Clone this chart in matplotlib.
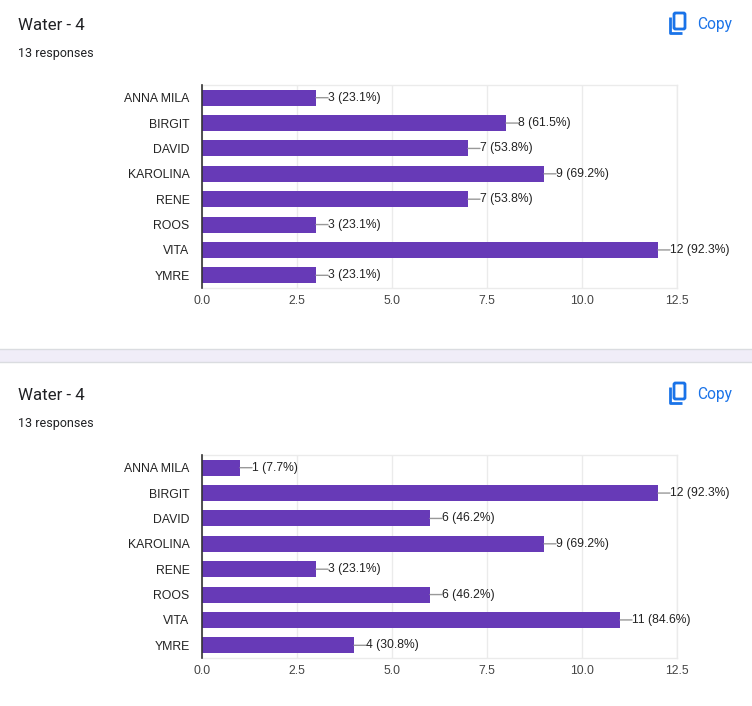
import matplotlib
matplotlib.use("Agg")
import matplotlib.pyplot as plt
from matplotlib.patches import FancyBboxPatch, Rectangle
from matplotlib.lines import Line2D

# ---- data ----
categories = ["ANNA MILA", "BIRGIT", "DAVID", "KAROLINA", "RENE", "ROOS", "VITA", "YMRE"]
values_top = [3, 8, 7, 9, 7, 3, 12, 3]
values_bottom = [1, 12, 6, 9, 3, 6, 11, 4]
responses = 13
title_text = "Water - 4"
subtitle_text = "13 responses"
xticks = [0.0, 2.5, 5.0, 7.5, 10.0, 12.5]

W, H = 752, 706
DPI = 100
fig = plt.figure(figsize=(W / DPI, H / DPI), dpi=DPI)
fig.patch.set_facecolor("white")

BAR = "#673ab7"
TEXT = "#222222"
GRID = "#ebebeb"
BLUE = "#1a73e8"

# overlay axes in pixel coordinates for header decorations
ov = fig.add_axes([0, 0, 1, 1], zorder=0)
ov.set_xlim(0, W)
ov.set_ylim(H, 0)
ov.axis("off")

# separator band
ov.add_patch(Rectangle((0, 349), W, 13, facecolor="#f0edf8", edgecolor="none"))
ov.add_line(Line2D([0, W], [349, 349], color="#dadce0", lw=1))
ov.add_line(Line2D([0, W], [362, 362], color="#dadce0", lw=1))


def header(y0):
    ov.text(18, y0 + 25.5, title_text, fontsize=12.2, family="Roboto", color="#202124",
            va="center", ha="left")
    ov.text(18, y0 + 53.5, subtitle_text, fontsize=9.0, family="Roboto", color="#202124",
            va="center", ha="left")
    ov.text(697, y0 + 24.5, "Copy", fontsize=11.2, family="Roboto", color=BLUE,
            va="center", ha="left")
    # copy icon: back sheet (L shape) and front rounded sheet
    ov.add_line(Line2D([670, 670, 682], [y0 + 17, y0 + 33, y0 + 33], color=BLUE, lw=2,
                       solid_capstyle="butt"))
    ov.add_patch(FancyBboxPatch((674, y0 + 13), 11, 16,
                                boxstyle="round,pad=0,rounding_size=1.5",
                                facecolor="white", edgecolor=BLUE, lw=2))


header(0)
header(370)


def chart(top_px, vals):
    bottom_px = top_px + 203
    left_px, right_px = 202, 677
    ax = fig.add_axes([left_px / W, 1 - bottom_px / H, (right_px - left_px) / W, 203 / H],
                      zorder=1)
    ax.patch.set_alpha(0)
    y = list(range(len(categories)))
    ax.barh(y, vals, height=0.63, color=BAR, zorder=3)
    ax.set_ylim(len(categories) - 0.5, -0.5)
    ax.set_xlim(0, 12.5)
    ax.set_yticks(y)
    ax.set_yticklabels(categories, family="Liberation Sans", fontsize=8.8, color=TEXT)
    ax.set_xticks(xticks)
    ax.set_xticklabels([f"{t:.1f}" for t in xticks], family="Liberation Sans",
                       fontsize=8.8, color="#444444")
    ax.tick_params(axis="y", length=0, pad=9)
    ax.tick_params(axis="x", length=0, pad=5)
    ax.grid(axis="x", color=GRID, lw=1, zorder=0)
    for s in ["top", "bottom", "right"]:
        ax.spines[s].set_color(GRID)
        ax.spines[s].set_linewidth(1)
    ax.spines["left"].set_color("#333333")
    ax.spines["left"].set_linewidth(1.2)
    ax.spines["left"].set_zorder(4)
    for i, v in enumerate(vals):
        pct = v / responses * 100
        ax.annotate(f"{v} ({pct:.1f}%)", xy=(v, i), xytext=(12, 0),
                    textcoords="offset pixels", va="center", ha="left",
                    fontsize=8.7, family="Liberation Sans", color=TEXT,
                    annotation_clip=False,
                    arrowprops=dict(arrowstyle="-", color="#999999", lw=1,
                                    shrinkA=0, shrinkB=0, patchA=None,
                                    relpos=(0, 0.5)))
    return ax


chart(85, values_top)
chart(455, values_bottom)

fig.savefig("out.png", dpi=DPI, facecolor="white")
